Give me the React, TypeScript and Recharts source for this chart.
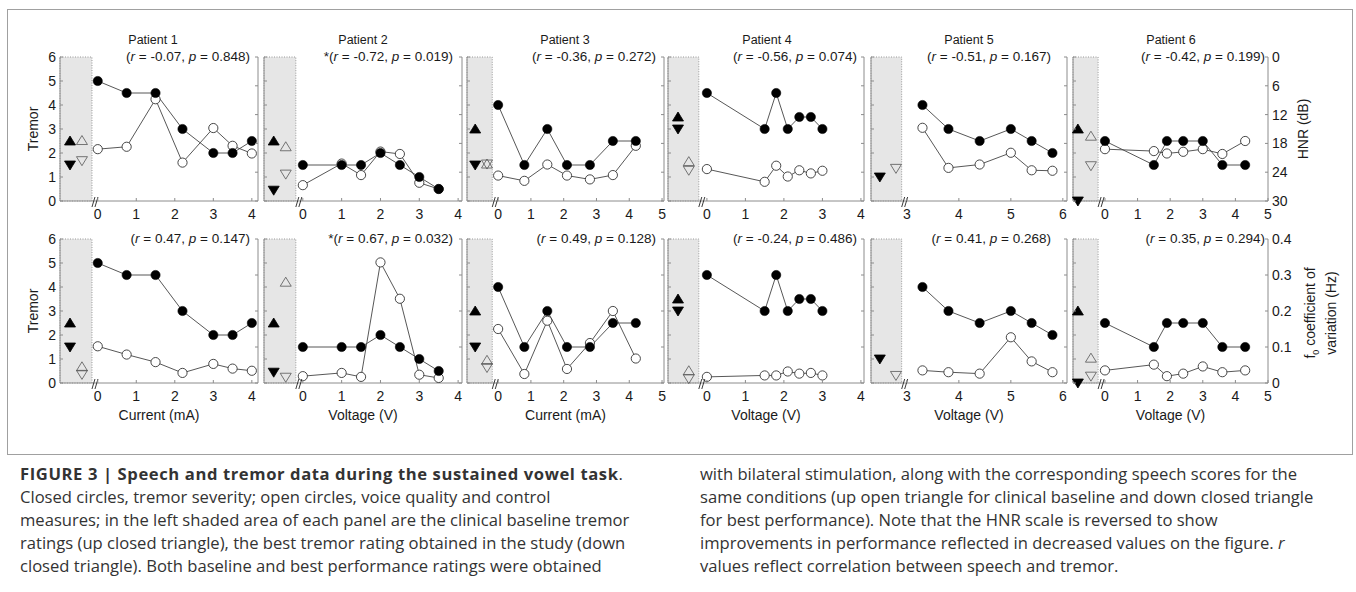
import React from "react";
import { ComposedChart, Line, XAxis, YAxis, ReferenceArea } from "recharts";

// ---- data ----
// stimulation amplitude per condition
const p1X = [0, 0.75, 1.5, 2.2, 3, 3.5, 4];
const p2X = [0, 1, 1.5, 2, 2.5, 3, 3.5];
const p3X = [0, 0.8, 1.5, 2.1, 2.8, 3.5, 4.2];
const p4X = [0, 1.5, 1.8, 2.1, 2.4, 2.7, 3];
const p5X = [3.3, 3.8, 4.4, 5, 5.4, 5.8];
const p6X = [0, 1.5, 1.9, 2.4, 3, 3.6, 4.3];

// tremor rating (closed circles)
const p1Tremor = [5, 4.5, 4.5, 3, 2, 2, 2.5];
const p2Tremor = [1.5, 1.5, 1.5, 2, 1.5, 1, 0.5];
const p3Tremor = [4, 1.5, 3, 1.5, 1.5, 2.5, 2.5];
const p4Tremor = [4.5, 3, 4.5, 3, 3.5, 3.5, 3];
const p5Tremor = [4, 3, 2.5, 3, 2.5, 2];
const p6Tremor = [2.5, 1.5, 2.5, 2.5, 2.5, 1.5, 1.5];

// HNR in dB (open circles, top row)
const p1Hnr = [19.2, 18.7, 8.8, 22.0, 14.8, 18.5, 20.1];
const p2Hnr = [26.7, 22.2, 24.6, 19.7, 20.2, 26.2, 27.5];
const p3Hnr = [24.7, 25.8, 22.4, 24.7, 25.5, 24.6, 18.5];
const p4Hnr = [23.35, 26.0, 22.65, 24.9, 23.6, 24.25, 23.7];
const p5Hnr = [14.75, 23.1, 22.4, 19.95, 23.6, 23.7];
const p6Hnr = [19.2, 19.6, 20.1, 19.75, 19.2, 20.2, 17.5];

// f0 coefficient of variation (open circles, bottom row)
const p1F0 = [0.102, 0.079, 0.058, 0.028, 0.053, 0.04, 0.034];
const p2F0 = [0.019, 0.028, 0.017, 0.335, 0.234, 0.023, 0.014];
const p3F0 = [0.15, 0.025, 0.173, 0.039, 0.111, 0.2, 0.068];
const p4F0 = [0.017, 0.021, 0.021, 0.032, 0.026, 0.028, 0.021];
const p5F0 = [0.035, 0.03, 0.026, 0.127, 0.06, 0.03];
const p6F0 = [0.035, 0.051, 0.019, 0.026, 0.046, 0.03, 0.035];

// clinical baseline / best: [up triangle, down triangle]
const p1BaseTremor = [2.5, 1.5];
const p2BaseTremor = [2.5, 0.45];
const p3BaseTremor = [3, 1.5];
const p4BaseTremor = [3.5, 3.0];
const p5BaseTremor = [null, 1.0];
const p6BaseTremor = [3, 0];

const p1BaseHnr = [17.4, 21.6];
const p2BaseHnr = [18.7, 24.4];
const p3BaseHnr = [22.3, 22.3];
const p4BaseHnr = [21.8, 23.6];
const p5BaseHnr = [null, 23.2];
const p6BaseHnr = [16.5, 22.65];

const p1BaseF0 = [0.045, 0.024];
const p2BaseF0 = [0.28, 0.016];
const p3BaseF0 = [0.063, 0.043];
const p4BaseF0 = [0.034, 0.012];
const p5BaseF0 = [null, 0.021];
const p6BaseF0 = [0.069, 0.019];

const hnrTicks = [0, 6, 12, 18, 24, 30];
const f0Ticks = [0, 0.1, 0.2, 0.3, 0.4];
const tremorTicks = [0, 1, 2, 3, 4, 5, 6];

const rTop = [
  ["", "-0.07", "0.848"],
  ["*", "-0.72", "0.019"],
  ["", "-0.36", "0.272"],
  ["", "-0.56", "0.074"],
  ["", "-0.51", "0.167"],
  ["", "-0.42", "0.199"],
];
const rBottom = [
  ["", "0.47", "0.147"],
  ["*", "0.67", "0.032"],
  ["", "0.49", "0.128"],
  ["", "-0.24", "0.486"],
  ["", "0.41", "0.268"],
  ["", "0.35", "0.294"],
];
const xTitles = ["Current (mA)", "Voltage (V)", "Current (mA)", "Voltage (V)", "Voltage (V)", "Voltage (V)"];

const patients = [
  { x: p1X, tremor: p1Tremor, hnr: p1Hnr, f0: p1F0, bt: p1BaseTremor, bh: p1BaseHnr, bf: p1BaseF0, ticks: [0, 1, 2, 3, 4] },
  { x: p2X, tremor: p2Tremor, hnr: p2Hnr, f0: p2F0, bt: p2BaseTremor, bh: p2BaseHnr, bf: p2BaseF0, ticks: [0, 1, 2, 3, 4] },
  { x: p3X, tremor: p3Tremor, hnr: p3Hnr, f0: p3F0, bt: p3BaseTremor, bh: p3BaseHnr, bf: p3BaseF0, ticks: [0, 1, 2, 3, 4, 5] },
  { x: p4X, tremor: p4Tremor, hnr: p4Hnr, f0: p4F0, bt: p4BaseTremor, bh: p4BaseHnr, bf: p4BaseF0, ticks: [0, 1, 2, 3, 4] },
  { x: p5X, tremor: p5Tremor, hnr: p5Hnr, f0: p5F0, bt: p5BaseTremor, bh: p5BaseHnr, bf: p5BaseF0, ticks: [3, 4, 5, 6] },
  { x: p6X, tremor: p6Tremor, hnr: p6Hnr, f0: p6F0, bt: p6BaseTremor, bh: p6BaseHnr, bf: p6BaseF0, ticks: [0, 1, 2, 3, 4, 5] },
];

// ---- layout ----
const layout = [
  { left: 60, right: 258, lo: -0.98, brk: -0.15, hi: 4.16, triX: [-0.72, -0.41], titleX: 153, rEnd: 250 },
  { left: 264, right: 462, lo: -1.0, brk: -0.18, hi: 4.1, triX: [-0.75, -0.44], titleX: 363, rEnd: 453 },
  { left: 467, right: 664, lo: -0.95, brk: -0.18, hi: 5.06, triX: [-0.7, -0.34], titleX: 565, rEnd: 656 },
  { left: 668, right: 864, lo: -1.01, brk: -0.21, hi: 4.08, triX: [-0.75, -0.47], titleX: 767, rEnd: 857 },
  { left: 871, right: 1067, lo: 2.31, brk: 2.9, hi: 6.08, triX: [2.48, 2.79], titleX: 969, rEnd: 1051 },
  { left: 1073, right: 1268, lo: -0.98, brk: -0.21, hi: 5.0, triX: [-0.83, -0.43], titleX: 1171, rEnd: 1265 },
];

const FONT = '"Liberation Sans", Arial, Helvetica, sans-serif';
const CAPTION_FONT = '"Open Sans", "Liberation Sans", Arial, sans-serif';
const AXIS = "#8c8c8c";
const INK = "#1a1a1a";
const PLOT_TOP = [57, 239];
const PLOT_H = 144;
const LW = 40;
const RW = 80;
const TM = 12;
const XH = 30;

function XTick(props: any) {
  const { x, y, payload } = props;
  return (
    <g>
      <line x1={x} y1={y} x2={x} y2={y - 3} stroke={AXIS} />
      <text x={x} y={y + 18} textAnchor="middle" fontSize={14} fontFamily={FONT} fill={INK}>
        {payload.value}
      </text>
    </g>
  );
}

function LTick(props: any) {
  const { x, y, payload, show } = props;
  return (
    <g>
      <line x1={x} y1={y} x2={x + 3} y2={y} stroke={AXIS} />
      {show && (
        <text x={x - 4} y={y + 5} textAnchor="end" fontSize={14} fontFamily={FONT} fill={INK}>
          {payload.value}
        </text>
      )}
    </g>
  );
}

function RTick(props: any) {
  const { x, y, payload, show } = props;
  return (
    <g>
      <line x1={x} y1={y} x2={x - 3} y2={y} stroke={AXIS} />
      {show && (
        <text x={x + 4} y={y + 5} textAnchor="start" fontSize={14} fontFamily={FONT} fill={INK}>
          {payload.value}
        </text>
      )}
    </g>
  );
}

const closedDot = (p: any) => (
  <circle key={`c${p.index}`} cx={p.cx} cy={p.cy} r={4.6} fill="#000" stroke="#000" strokeWidth={0.6} />
);
const openDot = (p: any) => (
  <circle key={`o${p.index}`} cx={p.cx} cy={p.cy} r={4.6} fill="#fff" stroke="#333" strokeWidth={0.9} />
);
const triUp = (filled: boolean) => (p: any) => (
  <polygon
    key={`u${p.index}`}
    points={`${p.cx},${p.cy - 5} ${p.cx - 5.5},${p.cy + 4} ${p.cx + 5.5},${p.cy + 4}`}
    fill={filled ? "#000" : "none"}
    stroke={filled ? "#000" : "#555"}
    strokeWidth={0.8}
  />
);
const triDown = (filled: boolean) => (p: any) => (
  <polygon
    key={`d${p.index}`}
    points={`${p.cx - 5.5},${p.cy - 4} ${p.cx + 5.5},${p.cy - 4} ${p.cx},${p.cy + 5}`}
    fill={filled ? "#000" : "none"}
    stroke={filled ? "#000" : "#555"}
    strokeWidth={0.8}
  />
);
const breakMark = (p: any) => (
  <g key={`b${p.index}`}>
    <line x1={p.cx} y1={p.cy + 6} x2={p.cx + 3} y2={p.cy - 4} stroke="#222" strokeWidth={0.9} />
    <line x1={p.cx + 3} y1={p.cy + 6} x2={p.cx + 6} y2={p.cy - 4} stroke="#222" strokeWidth={0.9} />
  </g>
);

function point(x: number, y: number | null) {
  return y === null ? [] : [{ x, y }];
}

function Panel({ i, row }: { i: number; row: number }) {
  const p = patients[i];
  const L = layout[i];
  const plotW = L.right - L.left;
  const speech = row === 0 ? p.hnr : p.f0;
  const baseSpeech = row === 0 ? p.bh : p.bf;
  const tremorData = p.x.map((x, k) => ({ x, y: p.tremor[k] }));
  const speechData = p.x.map((x, k) => ({ x, y: speech[k] }));

  const series: Array<[string, any[], any]> = [
    ["t", point(L.triX[0], p.bt[0]), triUp(true)],
    ["t", point(L.triX[0], p.bt[1]), triDown(true)],
    ["s", point(L.triX[1], baseSpeech[0]), triUp(false)],
    ["s", point(L.triX[1], baseSpeech[1]), triDown(false)],
  ];

  return (
    <div style={{ position: "absolute", left: L.left - LW, top: PLOT_TOP[row] - TM }}>
      <ComposedChart
        width={LW + plotW + RW}
        height={TM + PLOT_H + XH}
        margin={{ top: TM, right: 0, bottom: 0, left: 0 }}
      >
        <XAxis
          type="number"
          dataKey="x"
          domain={[L.lo, L.hi]}
          ticks={p.ticks}
          tick={<XTick />}
          tickLine={false}
          tickSize={0}
          tickMargin={0}
          axisLine={{ stroke: AXIS }}
          height={XH}
        />
        <YAxis
          yAxisId="t"
          type="number"
          dataKey="y"
          domain={[0, 6]}
          ticks={tremorTicks}
          tick={<LTick show={i === 0} />}
          tickLine={false}
          tickSize={0}
          tickMargin={0}
          axisLine={{ stroke: AXIS }}
          width={LW}
        />
        <YAxis
          yAxisId="s"
          orientation="right"
          type="number"
          dataKey="y"
          domain={row === 0 ? [0, 30] : [0, 0.4]}
          reversed={row === 0}
          ticks={row === 0 ? hnrTicks : f0Ticks}
          tick={<RTick show={i === 5} />}
          tickLine={false}
          tickSize={0}
          tickMargin={0}
          axisLine={{ stroke: AXIS }}
          width={RW}
        />
        <ReferenceArea
          yAxisId="t"
          x1={L.lo}
          x2={L.brk}
          y1={0}
          y2={6}
          fill="#e6e6e6"
          fillOpacity={1}
          stroke="#999"
          strokeDasharray="1 1.5"
        />
        <Line
          yAxisId="s"
          data={speechData}
          dataKey="y"
          stroke="#444"
          strokeWidth={0.9}
          dot={openDot}
          activeDot={false}
          isAnimationActive={false}
        />
        <Line
          yAxisId="t"
          data={tremorData}
          dataKey="y"
          stroke="#444"
          strokeWidth={0.9}
          dot={closedDot}
          activeDot={false}
          isAnimationActive={false}
        />
        {series.map(([axis, data, shape], k) => (
          <Line
            key={k}
            yAxisId={axis}
            data={data}
            dataKey="y"
            stroke="none"
            dot={shape}
            activeDot={false}
            isAnimationActive={false}
          />
        ))}
        <Line
          yAxisId="t"
          data={[{ x: L.brk, y: 0 }]}
          dataKey="y"
          stroke="none"
          dot={breakMark}
          activeDot={false}
          isAnimationActive={false}
        />
      </ComposedChart>
    </div>
  );
}

const txt: React.CSSProperties = {
  position: "absolute",
  whiteSpace: "nowrap",
  fontFamily: FONT,
  color: INK,
  lineHeight: 1,
};

function RText({ i, row }: { i: number; row: number }) {
  const [star, r, pv] = (row === 0 ? rTop : rBottom)[i];
  return (
    <div
      style={{
        ...txt,
        fontSize: 13.5,
        left: layout[i].rEnd,
        top: PLOT_TOP[row],
        transform: "translate(-100%, -50%)",
      }}
    >
      {star}(<i>r</i> = {r}, <i>p</i> = {pv})
    </div>
  );
}

const captionLeft = [
  <>
    <b style={{ letterSpacing: 0.6 }}>FIGURE 3 | Speech and tremor data during the sustained vowel task</b>.
  </>,
  <>Closed circles, tremor severity; open circles, voice quality and control</>,
  <>measures; in the left shaded area of each panel are the clinical baseline tremor</>,
  <>ratings (up closed triangle), the best tremor rating obtained in the study (down</>,
  <>closed triangle). Both baseline and best performance ratings were obtained</>,
];
const captionRight = [
  <>with bilateral stimulation, along with the corresponding speech scores for the</>,
  <>same conditions (up open triangle for clinical baseline and down closed triangle</>,
  <>for best performance). Note that the HNR scale is reversed to show</>,
  <>
    improvements in performance reflected in decreased values on the figure. <i>r</i>
  </>,
  <>values reflect correlation between speech and tremor.</>,
];

const CAP_TOP = 474;
const CAP_STEP = 23;
const CAP_SIZE = 16.6;

export default function App() {
  return (
    <div
      style={{
        position: "absolute",
        left: 0,
        top: 0,
        width: 1356,
        height: 592,
        background: "#fff",
        overflow: "hidden",
      }}
    >
      <div
        style={{
          position: "absolute",
          left: 7,
          top: 9,
          width: 1344,
          height: 444,
          border: "1px solid #a0a0a0",
        }}
      />
      {[0, 1].map((row) =>
        layout.map((_, i) => <Panel key={`${row}-${i}`} i={i} row={row} />)
      )}
      {layout.map((L, i) => (
        <div
          key={`t${i}`}
          style={{ ...txt, fontSize: 12.5, left: L.titleX, top: 40, transform: "translate(-50%, -50%)" }}
        >
          Patient {i + 1}
        </div>
      ))}
      {[0, 1].map((row) => layout.map((_, i) => <RText key={`r${row}${i}`} i={i} row={row} />))}
      {layout.map((L, i) => (
        <div
          key={`x${i}`}
          style={{
            ...txt,
            fontSize: 14,
            left: (L.left + L.right) / 2,
            top: 415,
            transform: "translate(-50%, -50%)",
          }}
        >
          {xTitles[i]}
        </div>
      ))}
      {[129, 311].map((y) => (
        <div
          key={`tr${y}`}
          style={{ ...txt, fontSize: 14, left: 33, top: y, transform: "translate(-50%, -50%) rotate(-90deg)" }}
        >
          Tremor
        </div>
      ))}
      <div
        style={{ ...txt, fontSize: 14, left: 1303, top: 129, transform: "translate(-50%, -50%) rotate(-90deg)" }}
      >
        HNR (dB)
      </div>
      <div
        style={{
          ...txt,
          fontSize: 14,
          lineHeight: "15px",
          textAlign: "center",
          left: 1321,
          top: 313,
          transform: "translate(-50%, -50%) rotate(-90deg)",
        }}
      >
        f<sub style={{ fontSize: 9 }}>0</sub> coefficient of
        <br />
        variation (Hz)
      </div>
      {captionLeft.map((c, k) => (
        <div
          key={`cl${k}`}
          style={{
            ...txt,
            fontFamily: CAPTION_FONT,
            fontSize: CAP_SIZE,
            color: "#333",
            left: 20,
            top: CAP_TOP + k * CAP_STEP,
            transform: "translateY(-50%)",
          }}
        >
          {c}
        </div>
      ))}
      {captionRight.map((c, k) => (
        <div
          key={`cr${k}`}
          style={{
            ...txt,
            fontFamily: CAPTION_FONT,
            fontSize: CAP_SIZE,
            color: "#333",
            left: 700,
            top: CAP_TOP + k * CAP_STEP,
            transform: "translateY(-50%)",
          }}
        >
          {c}
        </div>
      ))}
    </div>
  );
}
